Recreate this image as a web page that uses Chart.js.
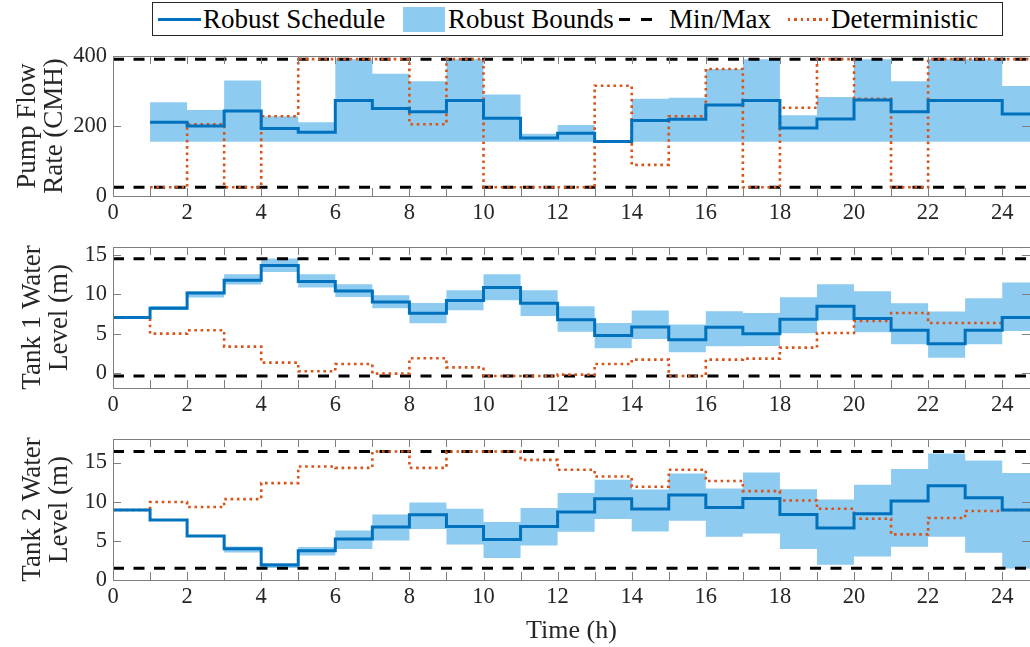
<!DOCTYPE html>
<html><head><meta charset="utf-8">
<script src="https://cdn.jsdelivr.net/npm/chart.js@4/dist/chart.umd.min.js"></script>
<style>
html,body{margin:0;padding:0;background:#fff;}
body{width:1030px;height:647px;overflow:hidden;position:relative;font-family:"Liberation Serif",serif;}
canvas{position:absolute;left:0;}
#legend{position:absolute;left:152px;top:2px;width:851px;height:34px;border:1px solid #262626;box-sizing:border-box;background:#fff;z-index:5;}
#legend .t{position:absolute;top:0;height:32px;line-height:32px;font-size:27px;color:#000;white-space:nowrap;}
#legend .sw{position:absolute;}
</style></head>
<body>
<div id="legend">
  <div class="sw" style="left:5px;top:15px;width:43px;height:3px;background:#0072BD"></div>
  <div class="t" style="left:50px">Robust Schedule</div>
  <div class="sw" style="left:250px;top:4px;width:42px;height:25px;background:rgb(142,203,240)"></div>
  <div class="t" style="left:295px">Robust Bounds</div>
  <div class="sw" style="left:466px;top:15px;width:44px;height:3px;background:repeating-linear-gradient(90deg,#000 0 11px,transparent 11px 22px)"></div>
  <div class="t" style="left:516px">Min/Max</div>
  <div class="sw" style="left:635px;top:15px;width:40px;height:2.5px;background:repeating-linear-gradient(90deg,#D95319 0 2.5px,transparent 2.5px 6.3px)"></div>
  <div class="t" style="left:678px">Deterministic</div>
</div>
<canvas id="c1" width="1030" height="232" style="top:0px"></canvas>
<canvas id="c2" width="1030" height="192" style="top:232px"></canvas>
<canvas id="c3" width="1030" height="223" style="top:424px"></canvas>
<script>
// ---------------- data ----------------
const xTickLabels = [0,2,4,6,8,10,12,14,16,18,20,22,24];
const xMax = 24.75;

// Pump flow rate (CMH), intervals starting at hour 1..24
const pumpSchedule = [211,200,243,193,182,273,250,241,273,222,166,179,156,216,219,260,273,194,220,274,241,273,273,234];
const pumpUpper    = [268,246,330,228,211,391,349,328,391,290,178,203,157,278,281,363,391,231,283,391,328,391,391,314];
const pumpLower    = [155,155,155,155,155,155,155,155,155,155,155,155,155,155,155,155,155,155,155,155,155,155,155,155];
const pumpDet      = [25,205,25,228,391,391,391,205,391,25,25,25,315,89,228,363,25,252,391,278,25,391,391,391];
const pumpMinMax   = [25,391];
const pumpTicks    = [0,200,400];

// Tank 1 water level (m); schedule/det start at hour 0, bounds at hour 1
const tank1Schedule = [7.04,8.22,10.17,11.78,13.64,11.61,10.42,9.02,7.59,9.2,10.85,8.86,6.78,4.75,5.85,4.24,5.81,5.0,6.82,8.47,6.91,5.43,3.73,5.43,7.04];
const tank1Upper    = [8.52,10.38,12.54,14.53,12.54,11.27,9.87,8.9,10.51,12.54,10.51,8.47,6.35,7.93,6.15,7.84,7.62,9.62,11.27,10.38,8.86,7.8,9.49,11.49];
const tank1Lower    = [8.0,9.58,11.23,12.83,10.85,9.66,8.22,6.32,7.97,9.24,7.24,5.23,3.14,4.32,2.63,3.39,3.43,5.04,6.7,5.17,3.65,1.95,3.65,5.34];
const tank1Det      = [7.04,5.0,5.43,3.35,1.32,0.22,1.14,-0.08,1.87,0.72,-0.38,-0.38,-0.2,1.14,1.7,-0.38,1.7,1.83,3.23,5.08,6.61,7.62,6.35,6.35,7.04];
const tank1MinMax   = [-0.38,14.5];
const tank1Ticks    = [0,5,10,15];

// Tank 2 water level (m)
const tank2Schedule = [8.93,7.65,5.61,3.99,1.91,3.74,5.23,6.76,8.33,6.84,5.18,6.84,8.68,10.37,9.06,10.84,9.26,10.41,8.37,6.63,8.46,10.08,12.03,10.5,8.93];
const tank2Upper    = [7.7,5.66,4.29,2.17,4.21,6.33,8.37,9.9,9.09,7.4,9.18,11.1,12.79,11.56,13.6,11.68,13.72,11.6,10.28,12.16,14.16,16.15,15.26,13.65];
const tank2Lower    = [7.6,5.56,3.52,1.53,3.14,3.95,5.05,6.5,4.54,2.81,4.41,6.16,7.78,6.2,7.56,5.52,5.95,3.95,1.95,3.01,4.25,5.52,3.48,1.48];
const tank2Det      = [8.93,9.95,9.31,10.33,12.37,14.49,14.32,16.4,14.32,16.4,16.4,15.34,14.07,13.22,11.9,14.07,12.63,11.35,10.15,9.09,7.82,5.82,7.91,8.8,8.93];
const tank2MinMax   = [1.5,16.4];
const tank2Ticks    = [0,5,10,15];

// ---------------- helpers ----------------
const BLUE = '#0072BD', FILL = 'rgb(142,203,240)', ORANGE = '#D95319', AXC = '#7f7f7f';
const FONT = '"Liberation Serif", serif';

function steps(start, vals){
  const pts = vals.map((v,i)=>({x:start+i, y:v}));
  pts.push({x:start+vals.length, y:vals[vals.length-1]});
  return pts;
}
function hline(v){ return [{x:0,y:v},{x:xMax,y:v}]; }

const boxPlugin = {
  id:'box',
  afterDatasetsDraw(chart){
    const {ctx, chartArea:a, scales:{x,y}} = chart;
    ctx.save();
    ctx.strokeStyle = AXC; ctx.lineWidth = 1;
    ctx.beginPath();
    ctx.rect(Math.round(a.left)+0.5, Math.round(a.top)+0.5, a.right-a.left, a.bottom-a.top);
    ctx.stroke();
    const L = 8;
    ctx.beginPath();
    for(let h=0; h<=Math.floor(xMax); h++){
      const px = Math.round(x.getPixelForValue(h))+0.5;
      ctx.moveTo(px, a.bottom); ctx.lineTo(px, a.bottom-L);
      ctx.moveTo(px, a.top); ctx.lineTo(px, a.top+L);
    }
    y.ticks.forEach(t=>{
      const py = Math.round(y.getPixelForValue(t.value))+0.5;
      ctx.moveTo(a.left, py); ctx.lineTo(a.left+L, py);
      ctx.moveTo(a.right, py); ctx.lineTo(a.right-L, py);
    });
    ctx.stroke();
    ctx.restore();
  }
};

function makeChart(id, cfg){
  const datasets = [
    {data: steps(cfg.bStart, cfg.upper), stepped:true, borderWidth:0, pointRadius:0, backgroundColor:FILL, fill:'+1', order:4},
    {data: steps(cfg.bStart, cfg.lower), stepped:true, borderWidth:0, pointRadius:0, fill:false, order:5},
    {data: steps(cfg.sStart, cfg.sched), stepped:true, borderColor:BLUE, borderWidth:3, pointRadius:0, fill:false, order:0},
    {data: hline(cfg.minmax[0]), borderColor:'#000', borderWidth:3, borderDash:[11,9.5], pointRadius:0, fill:false, order:2},
    {data: hline(cfg.minmax[1]), borderColor:'#000', borderWidth:3, borderDash:[11,9.5], pointRadius:0, fill:false, order:2},
    {data: steps(cfg.sStart, cfg.det), stepped:true, borderColor:ORANGE, borderWidth:2.6, borderDash:[2.6,3.7], pointRadius:0, fill:false, order:1}
  ];
  return new Chart(document.getElementById(id), {
    type:'line',
    data:{datasets},
    plugins:[boxPlugin],
    options:{
      responsive:false, animation:false, devicePixelRatio:1,
      layout:{padding:{top:cfg.padTop, left:0, right:0, bottom:0}},
      plugins:{legend:{display:false}, tooltip:{enabled:false}},
      scales:{
        x:{type:'linear', min:0, max:xMax,
           afterBuildTicks:s=>{s.ticks = xTickLabels.map(v=>({value:v}));},
           afterFit:s=>{s.height = cfg.xH; s.paddingLeft = 0; s.paddingRight = 0;},
           grid:{display:false, drawTicks:false}, border:{display:false},
           ticks:{padding:4, color:'#262626', font:{family:FONT, size:22.5}, maxRotation:0, autoSkip:false},
           title:{display:!!cfg.xTitle, text:cfg.xTitle||'', color:'#262626', font:{family:FONT, size:26}, padding:{bottom:0, top:0}}
        },
        y:{type:'linear', min:cfg.ymin, max:cfg.ymax,
           afterBuildTicks:s=>{s.ticks = cfg.yTicks.map(v=>({value:v}));},
           afterFit:s=>{s.width = 113; s.paddingTop = 0; s.paddingBottom = 0;},
           grid:{display:false, drawTicks:false}, border:{display:false},
           ticks:{padding:6, color:'#262626', font:{family:FONT, size:22.5}},
           title:{display:true, text:cfg.yTitle, color:'#262626', font:{family:FONT, size:27, lineHeight:1}, padding:{top:cfg.yTitlePad, bottom:0}}
        }
      }
    }
  });
}

makeChart('c1', {bStart:1, sStart:1, upper:pumpUpper, lower:pumpLower, sched:pumpSchedule, det:pumpDet,
  minmax:pumpMinMax, yTicks:pumpTicks, ymin:0, ymax:400, padTop:56, xH:36, yTitle:['Pump Flow','Rate (CMH)'], yTitlePad:14});
makeChart('c2', {bStart:1, sStart:0, upper:tank1Upper, lower:tank1Lower, sched:tank1Schedule, det:tank1Det,
  minmax:tank1MinMax, yTicks:tank1Ticks, ymin:-1.9, ymax:16, padTop:15, xH:36, yTitle:['Tank 1 Water','Level (m)'], yTitlePad:19});
makeChart('c3', {bStart:1, sStart:0, upper:tank2Upper, lower:tank2Lower, sched:tank2Schedule, det:tank2Det,
  minmax:tank2MinMax, yTicks:tank2Ticks, ymin:0, ymax:18, padTop:15, xH:67, yTitle:['Tank 2 Water','Level (m)'], yTitlePad:19,
  xTitle:'Time (h)'});
</script>
</body></html>
